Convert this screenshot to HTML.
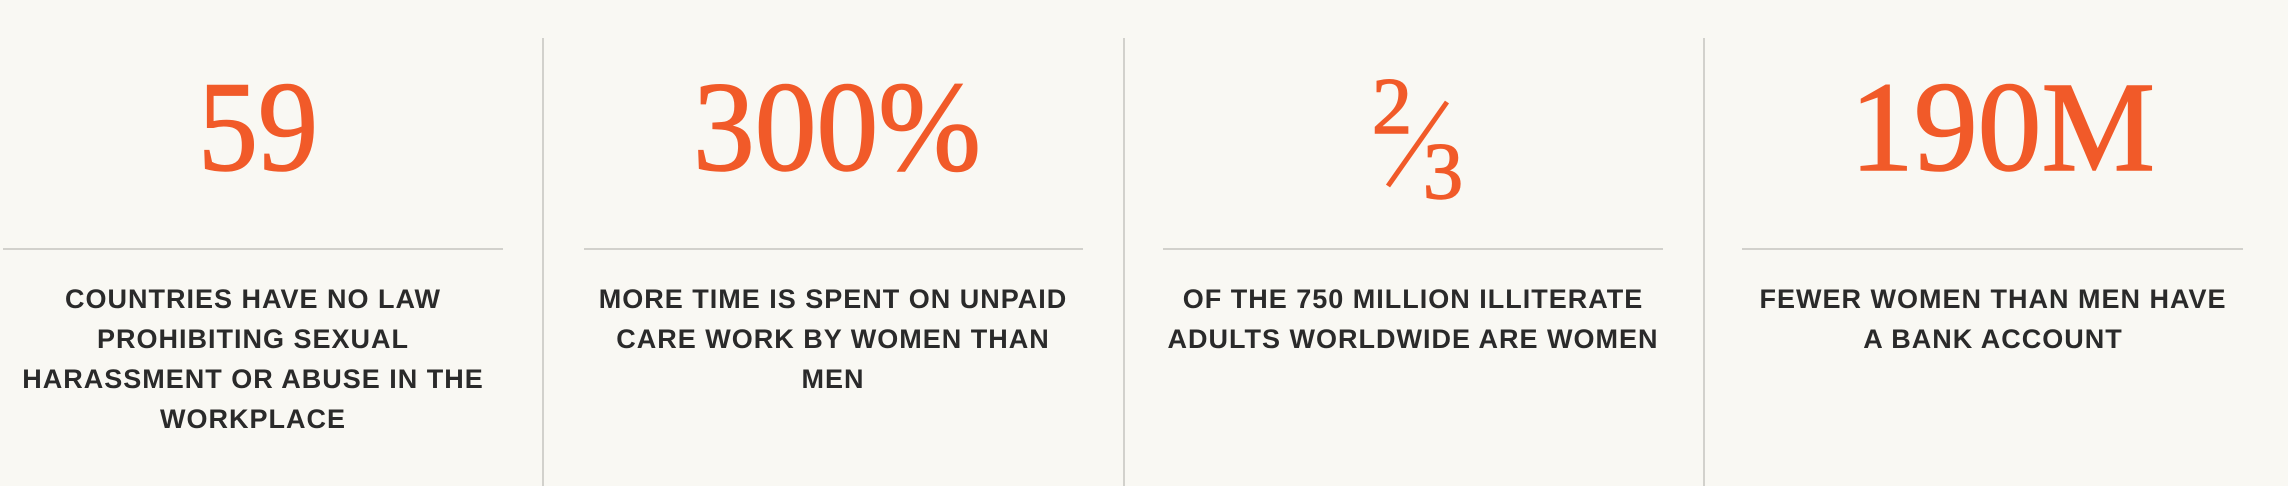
<!DOCTYPE html>
<html><head><meta charset="utf-8"><style>
html,body{margin:0;padding:0;background:#f9f8f3;}
svg{display:block}
.num{font-family:"Liberation Serif",serif;fill:#f15a29;stroke:#f15a29;stroke-width:1.5px;font-size:128px;}
.txt{font-family:"Liberation Sans",sans-serif;font-weight:bold;font-size:27px;fill:#2a2a2a;letter-spacing:1px;}
</style></head><body>
<svg width="2288" height="486" viewBox="0 0 2288 486">
<rect width="2288" height="486" fill="#f9f8f3"/>
<g stroke="#d2d1cc" stroke-width="2">
<line x1="543" y1="38" x2="543" y2="486"/>
<line x1="1124" y1="38" x2="1124" y2="486"/>
<line x1="1704" y1="38" x2="1704" y2="486"/>
<line x1="3" y1="249" x2="503" y2="249"/>
<line x1="584" y1="249" x2="1083" y2="249"/>
<line x1="1163" y1="249" x2="1663" y2="249"/>
<line x1="1742" y1="249" x2="2243" y2="249"/>
</g>
<text class="num" x="198" y="170" textLength="120" lengthAdjust="spacingAndGlyphs">59</text>
<text class="num" x="693" y="170" textLength="288" lengthAdjust="spacingAndGlyphs">300%</text>
<g>
<text class="num" x="1372" y="133" style="font-size:80px">2</text>
<line x1="1447" y1="102" x2="1388" y2="186" stroke="#f15a29" stroke-width="5"/>
<text class="num" x="1423" y="198" style="font-size:80px">3</text>
</g>
<text class="num" x="1850" y="170" textLength="305" lengthAdjust="spacingAndGlyphs">190M</text>

<g class="txt" text-anchor="middle">
<text x="253" y="308">COUNTRIES HAVE NO LAW</text>
<text x="253" y="348">PROHIBITING SEXUAL</text>
<text x="253" y="388">HARASSMENT OR ABUSE IN THE</text>
<text x="253" y="428">WORKPLACE</text>
</g>
<g class="txt" text-anchor="middle">
<text x="833" y="308">MORE TIME IS SPENT ON UNPAID</text>
<text x="833" y="348">CARE WORK BY WOMEN THAN</text>
<text x="833" y="388">MEN</text>
</g>
<g class="txt" text-anchor="middle">
<text x="1413" y="308">OF THE 750 MILLION ILLITERATE</text>
<text x="1413" y="348">ADULTS WORLDWIDE ARE WOMEN</text>
</g>
<g class="txt" text-anchor="middle">
<text x="1993" y="308">FEWER WOMEN THAN MEN HAVE</text>
<text x="1993" y="348">A BANK ACCOUNT</text>
</g>
</svg>
</body></html>
